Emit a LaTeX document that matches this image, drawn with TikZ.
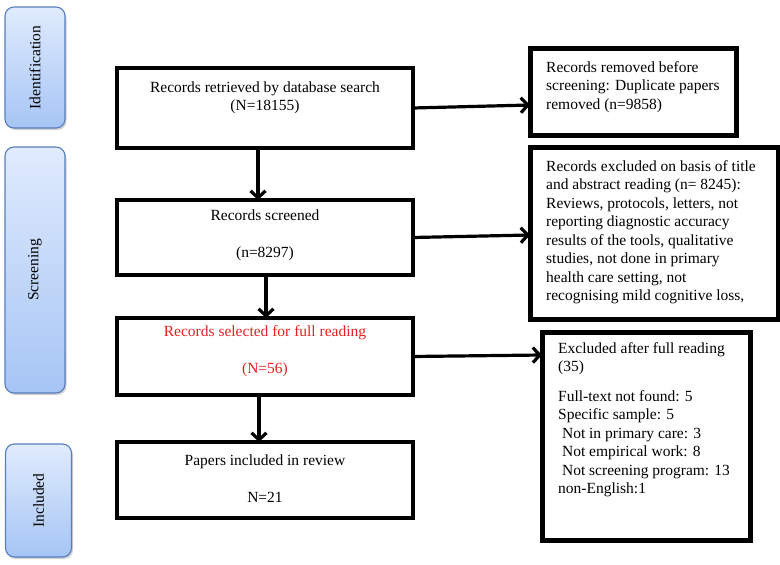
\documentclass[tikz,border=0pt]{standalone}
\usepackage{fontspec}
\setmainfont{Liberation Serif}
\usetikzlibrary{arrows.meta,shadows}
\definecolor{redtxt}{RGB}{232,32,32}
\definecolor{bartop}{RGB}{224,235,253}
\definecolor{barbot}{RGB}{166,197,245}
\definecolor{barline}{RGB}{88,126,190}
\begin{document}
\begin{tikzpicture}[x=1pt,y=-1pt,
  font=\fontsize{15.5}{18.5}\selectfont,
  mainbox/.style={draw, line width=3.8pt, inner sep=0pt, outer sep=0pt},
  sidebox/.style={draw, line width=5pt, inner sep=0pt, outer sep=0pt},
  phase/.style={draw=barline, line width=1.1pt, rounded corners=9pt, top color=bartop, bottom color=barbot,
     inner sep=0pt, outer sep=0pt,
     drop shadow={shadow xshift=1.5pt, shadow yshift=-2pt, fill=black!40, opacity=0.45}},
  phasetxt/.style={rotate=90, inner sep=0pt},
  ctr/.style={align=center, inner sep=0pt},
  lft/.style={align=left, anchor=north west, inner sep=0pt},
  arr/.style={line width=3.2pt, -{Straight Barb[length=7pt,width=15pt]}}]
\useasboundingbox (0,0) rectangle (780,565);

% phase bars
\node[phase, minimum width=60pt, minimum height=121pt] (s1) at (35,67.5) {};
\node[phasetxt] (s1t) at (s1.center) {Identification};
\node[phase, minimum width=60pt, minimum height=246pt] (s2) at (35,270) {};
\node[phasetxt] (s2t) at (s2.center) {Screening};
\node[phase, minimum width=66pt, minimum height=113pt] (s3) at (38.5,500.5) {};
\node[phasetxt] (s3t) at (s3.center) {Included};

% main boxes
\node[mainbox, minimum width=296pt, minimum height=80pt] (b1) at (265,108) {};
\node[ctr] (b1t) at (265,98) {Records retrieved by database search\\(N=18155)};
\node[mainbox, minimum width=296pt, minimum height=75pt] (b2) at (265,237.5) {};
\node[ctr] (b2t) at (265,235) {Records screened\\[18.5pt](n=8297)};
\node[mainbox, minimum width=296pt, minimum height=77pt] (b3) at (265,356.5) {};
\node[ctr, text=redtxt] (b3t) at (265,351.5) {Records selected for full reading\\[18.5pt](N=56)};
\node[mainbox, minimum width=296pt, minimum height=76pt] (b4) at (265,480) {};
\node[ctr] (b4t) at (265,478.5) {Papers included in review\\[18.5pt]N=21};

% side boxes
\node[sidebox, minimum width=206pt, minimum height=87pt] (r1) at (633,91.5) {};
\node[lft] (r1t) at (546,61) {Records removed before\\screening: Duplicate papers\\removed (n=9858)};
\node[sidebox, minimum width=248pt, minimum height=172pt] (r2) at (654,233) {};
\node[lft] (r2t) at (546,160) {Records excluded on basis of title\\and abstract reading (n= 8245):\\Reviews, protocols, letters, not\\reporting diagnostic accuracy\\results of the tools, qualitative\\studies, not done in primary\\health care setting, not\\recognising mild cognitive loss,};
\node[sidebox, minimum width=208pt, minimum height=208pt] (r3) at (646,436) {};
\node[lft] (r3t) at (558,342) {Excluded after full reading\\(35)\\[11pt]Full-text not found: 5\\Specific sample: 5\\\hspace*{0.25em}Not in primary care: 3\\\hspace*{0.25em}Not empirical work: 8\\\hspace*{0.25em}Not screening program: 13\\non-English:1};

% connectors
\draw[arr] ([xshift=-7pt]b1.south) -- ([xshift=-7pt]b2.north);
\draw[arr] ([xshift=1pt]b2.south) -- ([xshift=1pt]b3.north);
\draw[arr] ([xshift=-6pt]b3.south) -- ([xshift=-6pt]b4.north);
\draw[arr] (b1.east) -- ([yshift=-13.5pt]r1.west);
\draw[arr] (b2.east) -- ([yshift=-2pt]r2.west);
\draw[arr] (b3.east) -- ([yshift=81pt]r3.west);
\end{tikzpicture}
\end{document}
